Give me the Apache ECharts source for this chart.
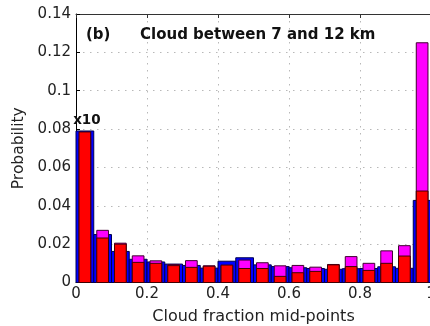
<!DOCTYPE html>
<html>
<head>
<meta charset="utf-8">
<script src="https://cdn.jsdelivr.net/npm/echarts@6/dist/echarts.min.js"></script>
<style>
  html, body { margin: 0; padding: 0; background: #fff; overflow: hidden; }
  #chart { width: 430px; height: 326px; }
</style>
</head>
<body>
<div id="chart"></div>
<script>
// Histogram bins (cloud fraction mid-points, bin width 0.05)
const binMids = [0.025, 0.075, 0.125, 0.175, 0.225, 0.275, 0.325, 0.375, 0.425, 0.475,
                 0.525, 0.575, 0.625, 0.675, 0.725, 0.775, 0.825, 0.875, 0.925, 0.975];
const binWidth = 0.05;

// Probabilities per bin (first bin shown divided by 10)
const blueVals    = [0.0790, 0.0250, 0.0162, 0.0121, 0.0107, 0.0096, 0.0089, 0.0075, 0.0111, 0.0129,
                     0.0092, 0.0083, 0.0077, 0.0073, 0.0069, 0.0072, 0.0073, 0.0082, 0.0074, 0.0428];
const magentaVals = [0.0750, 0.0272, 0.0205, 0.0139, 0.0113, 0.0094, 0.0114, 0.0087, 0.0087, 0.0117,
                     0.0103, 0.0087, 0.0089, 0.0080, 0.0094, 0.0135, 0.0100, 0.0165, 0.0192, 0.1250];
const redVals     = [0.0785, 0.0232, 0.0200, 0.0105, 0.0100, 0.0088, 0.0079, 0.0085, 0.0091, 0.0073,
                     0.0073, 0.0032, 0.0051, 0.0058, 0.0092, 0.0083, 0.0063, 0.0100, 0.0138, 0.0477];

const xTickLabels = ['0', '0.2', '0.4', '0.6', '0.8', '1'];
const yTickLabels = ['0', '0.02', '0.04', '0.06', '0.08', '0.1', '0.12', '0.14'];

const FONT = 'DejaVu Sans';

function tickLabel(list) {
  return function (v) {
    let best = list[0], d = Infinity;
    list.forEach(function (s) {
      const dd = Math.abs(parseFloat(s) - v);
      if (dd < d) { d = dd; best = s; }
    });
    return best;
  };
}

// One rectangle per bin; frac is the share of the bin width the bar covers
function barSeries(name, values, fill, stroke, frac, z) {
  return {
    type: 'custom',
    name: name,
    z: z,
    clip: false,
    data: binMids.map(function (m, i) { return [m, values[i]]; }),
    encode: { x: 0, y: 1 },
    renderItem: function (params, api) {
      const m = api.value(0), v = api.value(1);
      const half = binWidth * frac / 2;
      const p0 = api.coord([m - half, v]);
      const p1 = api.coord([m + half, 0]);
      return {
        type: 'rect',
        shape: { x: p0[0], y: p0[1], width: p1[0] - p0[0], height: p1[1] - p0[1] },
        style: { fill: fill, stroke: stroke, lineWidth: 1 }
      };
    }
  };
}

const chart = echarts.init(document.getElementById('chart'), null, { renderer: 'canvas' });

const gridLine = { show: true, lineStyle: { color: '#b8b8b8', width: 1, type: [1.5, 5.5] } };

chart.setOption({
  animation: false,
  backgroundColor: '#fff',
  grid: { left: 76, top: 14, width: 355, height: 268.5, containLabel: false, outerBoundsMode: 'none' },
  xAxis: [{
    type: 'value', min: 0, max: 1, interval: 0.2, position: 'bottom',
    name: 'Cloud fraction mid-points', nameLocation: 'middle', nameGap: 26,
    nameTextStyle: { fontFamily: FONT, fontSize: 16, color: '#222' },
    axisLine: { show: true, lineStyle: { color: '#000', width: 1 } },
    axisTick: { show: true, inside: true, length: 4, lineStyle: { color: '#000' } },
    axisLabel: { fontFamily: FONT, fontSize: 15, color: '#222', margin: 4, formatter: tickLabel(xTickLabels) },
    splitLine: gridLine
  }, {
    type: 'value', min: 0, max: 1, interval: 0.2, position: 'top',
    axisLine: { show: true, lineStyle: { color: '#333', width: 1 } },
    axisTick: { show: true, inside: true, length: 4, lineStyle: { color: '#333' } },
    axisLabel: { show: false },
    splitLine: { show: false }
  }],
  yAxis: [{
    type: 'value', min: 0, max: 0.14, interval: 0.02,
    name: 'Probability', nameLocation: 'middle', nameGap: 44,
    nameTextStyle: { fontFamily: FONT, fontSize: 15.5, color: '#222' },
    axisLine: { show: true, lineStyle: { color: '#000', width: 1 } },
    axisTick: { show: true, inside: true, length: 4, lineStyle: { color: '#000' } },
    axisLabel: { fontFamily: FONT, fontSize: 15, color: '#222', margin: 5, formatter: tickLabel(yTickLabels) },
    splitLine: gridLine
  }],
  series: [
    barSeries('blue', blueVals, '#0000ff', '#000050', 1.0, 2),
    barSeries('magenta', magentaVals, '#ff00ff', '#400030', 0.66, 3),
    barSeries('red', redVals, '#ff0000', '#400000', 0.66, 4)
  ]
});

// Panel title and the scale note above the first bin
const firstTop = chart.convertToPixel({ xAxisIndex: 0, yAxisIndex: 0 }, [binMids[0], blueVals[0]]);
chart.setOption({
  graphic: [
    { type: 'text', left: 86, top: 28, z: 10,
      style: { text: '(b)', font: 'bold 15px "' + FONT + '"', fill: '#111' } },
    { type: 'text', left: 140, top: 28, z: 10,
      style: { text: 'Cloud between 7 and 12 km', font: 'bold 15px "' + FONT + '"', fill: '#111' } },
    { type: 'text', x: firstTop[0] + 2, y: firstTop[1] - 3, z: 10,
      style: { text: 'x10', font: 'bold 13.5px "' + FONT + '"', fill: '#111',
               textAlign: 'center', textVerticalAlign: 'bottom' } }
  ]
});
</script>
</body>
</html>
